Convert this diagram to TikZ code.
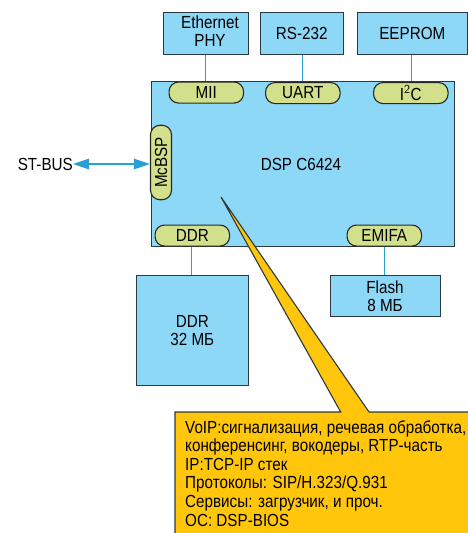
\documentclass[tikz,border=0pt]{standalone}
\usepackage{fontspec}
\setmainfont[FakeStretch=0.87]{Liberation Sans}
\usetikzlibrary{arrows.meta}
\definecolor{boxblue}{HTML}{8DD7F7}
\definecolor{pill}{HTML}{D3E08B}
\definecolor{callout}{HTML}{FFC60B}
\definecolor{wire}{HTML}{2A9FD6}
\definecolor{edge}{HTML}{2B3A42}
\tikzset{
  blk/.style={draw=edge,line width=1.1pt,fill=boxblue,inner sep=0pt,align=center,font=\fontsize{17.5}{18}\selectfont},
  pillbox/.style={draw=black!85,line width=1.1pt,fill=pill,rounded corners=9.5pt,inner sep=0pt,font=\fontsize{17.5}{18}\selectfont},
  wireline/.style={draw=wire,line width=1pt},
  lbl/.style={inner sep=0pt,font=\fontsize{17.5}{18}\selectfont}
}
\begin{document}
\begin{tikzpicture}[x=1pt,y=-1pt]
\useasboundingbox (0,0) rectangle (468,533);
% main
\node[blk,minimum width=303pt,minimum height=165pt,anchor=north west] (dsp) at (151,81) {};
\node[lbl] (dsptext) at (301,164) {DSP C6424};
% top boxes
\node[blk,minimum width=85pt,minimum height=42pt,anchor=north west] (eth) at (163,12) {};
\node[lbl,align=center,font=\fontsize{17.5}{18}\selectfont] (ethtext) at (210,31.5) {Ethernet\\PHY};
\node[blk,minimum width=82.5pt,minimum height=42pt,anchor=north west] (rs) at (260,12) {RS-232};
\node[blk,minimum width=109.5pt,minimum height=42pt,anchor=north west] (ee) at (357,12) {EEPROM};
% pills
\node[pillbox,minimum width=74.5pt,minimum height=21pt,anchor=north west] (mii) at (168.5,81.5) {MII};
\node[pillbox,minimum width=74.5pt,minimum height=21pt,anchor=north west] (uart) at (265,82) {UART};
\node[pillbox,minimum width=74.5pt,minimum height=21pt,anchor=north west] (i2c) at (373,82) {I$^{\mathsf{2}}$C};
\node[pillbox,minimum width=74.5pt,minimum height=21pt,rotate=90] (mcbsp) at (161,162.5) {McBSP};
\node[pillbox,minimum width=74.5pt,minimum height=21pt,anchor=north west] (ddr) at (154.5,224.5) {DDR};
\node[pillbox,minimum width=74.5pt,minimum height=21pt,anchor=north west] (emifa) at (346.5,224.5) {EMIFA};
% bottom boxes
\node[blk,minimum width=111.5pt,minimum height=110pt,anchor=north west] (ddrbox) at (136,275) {DDR\\32 МБ};
\node[blk,minimum width=110pt,minimum height=40.5pt,anchor=north west] (flash) at (329.5,275) {Flash\\8 МБ};
% connectors
\draw[wireline] (eth.south -| 205,0) -- (dsp.north -| 205,0);
\draw[wireline] (rs.south -| 302,0) -- (dsp.north -| 302,0);
\draw[wireline] (ee.south -| 411.5,0) -- (dsp.north -| 411.5,0);
\draw[wireline] (dsp.south -| 191,0) -- (ddrbox.north -| 191,0);
\draw[wireline] (dsp.south -| 384,0) -- (flash.north -| 384,0);
% ST-BUS
\node[lbl,anchor=east] (stbus) at (73,164) {ST-BUS};
\draw[draw=wire,line width=1.2pt,{Triangle[length=16pt,width=10.5pt,fill=wire]}-{Triangle[length=16pt,width=10.5pt,fill=wire]}] (stbus.east) -- (mcbsp.north |- stbus.east);
% callout
\coordinate (tip) at (221,197);
\fill[callout] (175,412) -- (340.7,412) -- (tip) -- (369,412) -- (468,412) -- (468,533) -- (175,533) -- cycle;
\draw[draw=edge,line width=1.1pt] (175,533) -- (175,412) -- (340.7,412) -- (tip) -- (369,412) -- (468,412);
\node[anchor=north west,inner sep=0pt,align=left,font=\fontsize{17.5}{18.6}\selectfont] (calltext) at (185,420)
 {VoIP:сигнализация, речевая обработка,\\конференсинг, вокодеры, RTP-часть\\IP:TCP-IP стек\\Протоколы: SIP/H.323/Q.931\\Сервисы: загрузчик, и проч.\\ОС: DSP-BIOS};
\end{tikzpicture}
\end{document}
